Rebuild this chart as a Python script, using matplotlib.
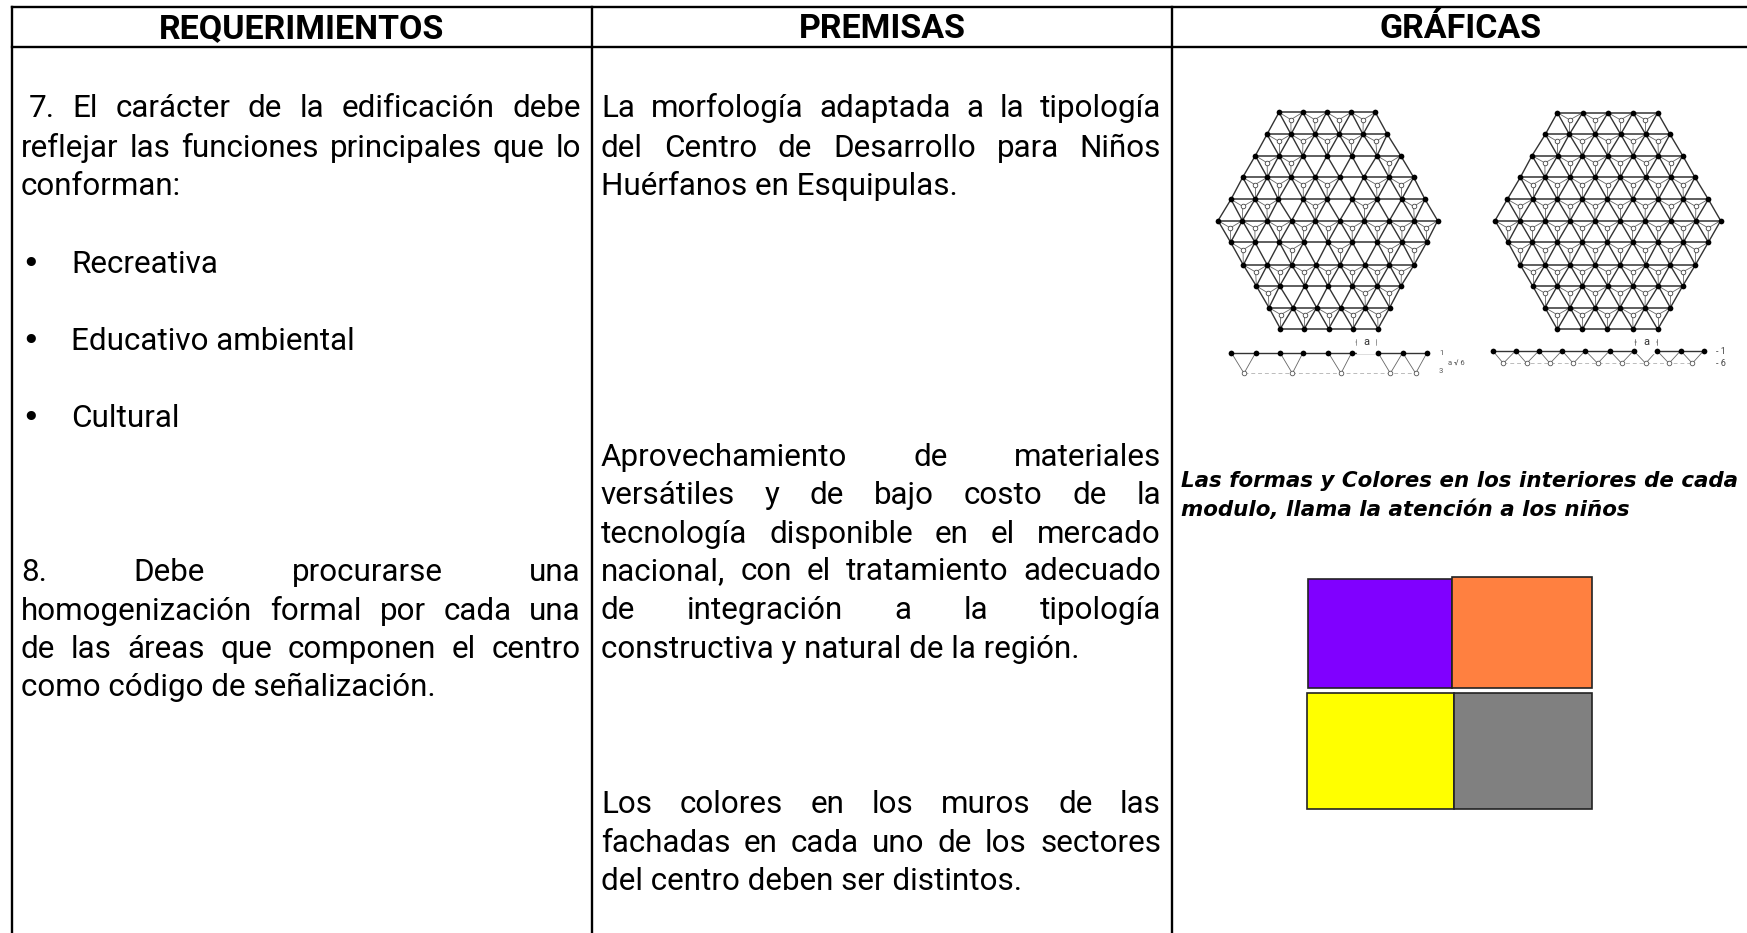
import matplotlib
matplotlib.use("Agg")
import matplotlib.pyplot as plt
from matplotlib.patches import Rectangle

W, H = 1747, 933

headers = ["REQUERIMIENTOS", "PREMISAS", "GRÁFICAS"]
header_x = [302, 882, 1461]
col_lines = [12, 592, 1172]

# (text, baseline y, justified)
col1_lines = [
    (" 7. El carácter de la edificación debe", 117, True),
    ("reflejar las funciones principales que lo", 157, True),
    ("conforman:", 195, False),
    ("8. Debe procurarse una", 581, True),
    ("homogenización formal por cada una", 620, True),
    ("de las áreas que componen el centro", 658, True),
    ("como código de señalización.", 696, False),
]
bullets = [("Recreativa", 273), ("Educativo ambiental", 350), ("Cultural", 427)]
col2_lines = [
    ("La morfología adaptada a la tipología", 117, True),
    ("del Centro de Desarrollo para Niños", 157, True),
    ("Huérfanos en Esquipulas.", 195, False),
    ("Aprovechamiento de materiales", 466, True),
    ("versátiles y de bajo costo de la", 504, True),
    ("tecnología disponible en el mercado", 543, True),
    ("nacional, con el tratamiento adecuado", 580, True),
    ("de integración a la tipología", 619, True),
    ("constructiva y natural de la región.", 658, False),
    ("Los colores en los muros de las", 813, True),
    ("fachadas en cada uno de los sectores", 852, True),
    ("del centro deben ser distintos.", 890, False),
]
caption = ["Las formas y Colores en los interiores de cada", "modulo, llama la atención a los niños"]
caption_y = [487, 516]

rows_y_a = [217, 283, 347, 412, 478, 542, 607, 675, 738, 803, 866]
rows_a = [
    [267, 338, 410, 484, 556],
    [231, 303, 375, 447, 519, 592],
    [196, 267, 338, 411, 485, 561, 632],
    [158, 232, 303, 376, 449, 521, 597, 671],
    [123, 195, 265, 340, 411, 487, 561, 635, 705],
    [84, 157, 232, 305, 376, 449, 523, 598, 673, 743],
    [122, 195, 268, 341, 413, 487, 562, 636, 710],
    [160, 232, 305, 378, 450, 525, 598, 672],
    [199, 269, 344, 414, 487, 562, 633],
    [237, 309, 380, 452, 526, 599],
    [271, 343, 416, 489, 564],
]
# triangles without a lower node, per gap between rows
empty_a = [[], [], [2, 3, 4], [4], [2, 4, 6], [], [1, 3, 5], [], [1, 2, 3], []]

rows_y_b = [218, 283, 347, 412, 478, 542, 607, 675, 738, 803, 868]
rows_b = [
    [262, 338, 414, 489, 563],
    [226, 298, 375, 452, 527, 600],
    [186, 263, 337, 413, 489, 565, 638],
    [151, 225, 300, 375, 451, 527, 602, 675],
    [112, 188, 262, 337, 412, 488, 565, 640, 715],
    [75, 149, 225, 300, 375, 450, 525, 602, 677, 752],
    [114, 187, 262, 337, 412, 488, 563, 640, 715],
    [151, 225, 300, 375, 450, 527, 600, 676],
    [188, 262, 337, 413, 488, 565, 638],
    [225, 300, 375, 450, 525, 601],
    [262, 337, 412, 489, 563],
]
empty_b = [[] for _ in range(10)]

elev_top_a = [124, 197, 270, 339, 415, 485, 564, 638, 711]
elev_low_a = [162, 307, 453, 601, 677]
elev_links_a = [(0, 1), (2, 3), (4, 5), (6, 7), (7, 8)]
elev_top_b = [68, 137, 207, 276, 346, 419, 491, 561, 632, 701]
elev_low_b = [100, 170, 240, 310, 383, 455, 527, 597, 667]
elev_links_b = [(i, i + 1) for i in range(9)]

squares = [
    (1308, 579, 144, 109, "#8000ff"),
    (1452, 577, 140, 111, "#ff8040"),
    (1307, 693, 147, 116, "#ffff00"),
    (1454, 693, 138, 116, "#808080"),
]

plt.rcParams["font.family"] = ["Roboto", "DejaVu Sans"]
fig = plt.figure(figsize=(W / 100, H / 100), dpi=100)
ax = fig.add_axes([0, 0, 1, 1])
ax.set_xlim(0, W)
ax.set_ylim(H, 0)
ax.axis("off")
renderer = fig.canvas.get_renderer()

BODY = 22.6


def put_line(line, left, right, y, justify):
    if not justify:
        ax.text(left, y, line.strip(), fontsize=BODY, va="baseline", color="black")
        return
    words = line.split()
    widths = []
    for w in words:
        t = ax.text(0, 0, w, fontsize=BODY)
        widths.append(t.get_window_extent(renderer).width)
        t.remove()
    if line.startswith(" "):
        left = left + 8
    gap = (right - left - sum(widths)) / (len(words) - 1)
    x = left
    for w, wd in zip(words, widths):
        ax.text(x, y, w, fontsize=BODY, va="baseline", color="black")
        x += wd + gap


def draw_lattice(rows, rows_y, empty, x0, y0):
    for r, xs in enumerate(rows):
        y = rows_y[r] / 3 + y0
        ax.plot([xs[0] / 3 + x0, xs[-1] / 3 + x0], [y, y], color="#333333", lw=1.1)
    hollow_x, hollow_y = [], []
    for r in range(len(rows) - 1):
        up, dn = rows[r], rows[r + 1]
        y1, y2 = rows_y[r] / 3 + y0, rows_y[r + 1] / 3 + y0
        grow = len(dn) > len(up)
        for i in range(len(up)):
            targets = [i, i + 1] if grow else [i - 1, i]
            for j in targets:
                if 0 <= j < len(dn):
                    ax.plot([up[i] / 3 + x0, dn[j] / 3 + x0], [y1, y2], color="#333333", lw=1.0)
        for i in range(len(up) - 1):
            if i in empty[r]:
                continue
            apex = dn[i + 1] if grow else dn[i]
            cx = (up[i] + up[i + 1] + apex) / 9 + x0
            cy = y1 + (y2 - y1) / 3
            for vx, vy in [(up[i], y1), (up[i + 1], y1), (apex, y2)]:
                ax.plot([cx, vx / 3 + x0], [cy, vy], color="#666666", lw=0.6)
            hollow_x.append(cx)
            hollow_y.append(cy)
    ax.scatter(hollow_x, hollow_y, s=11, facecolor="white", edgecolor="#444444", linewidth=0.6, zorder=3)
    for r, xs in enumerate(rows):
        ax.scatter([x / 3 + x0 for x in xs], [rows_y[r] / 3 + y0] * len(xs), s=17, color="black", linewidth=0, zorder=4)


def draw_elevation(top, low, links, y_top, y_low, x0, y0):
    yt, yl = y_top / 3 + y0, y_low / 3 + y0
    ax.plot([top[0] / 3 + x0, top[-1] / 3 + x0], [yt, yt], color="#333333", lw=1.0)
    ax.plot([low[0] / 3 + x0, low[-1] / 3 + x0], [yl, yl], color="#bbbbbb", lw=0.7, ls=(0, (4, 3)))
    for k, (a, b) in enumerate(links):
        for n in (a, b):
            ax.plot([low[k] / 3 + x0, top[n] / 3 + x0], [yl, yt], color="#666666", lw=0.6)
    ax.scatter([x / 3 + x0 for x in top], [yt] * len(top), s=17, color="black", linewidth=0, zorder=4)
    ax.scatter([x / 3 + x0 for x in low], [yl] * len(low), s=11, facecolor="white", edgecolor="#555555", linewidth=0.6, zorder=4)


# table rules
ax.plot([12, W], [7, 7], color="black", lw=1.7)
ax.plot([12, W], [47, 47], color="black", lw=1.7)
for x in col_lines:
    ax.plot([x, x], [7, H], color="black", lw=1.7)
ax.set_xlim(0, W)
ax.set_ylim(H, 0)

for name, x in zip(headers, header_x):
    ax.text(x, 38, name, fontsize=24.5, fontweight="bold", ha="center", va="baseline", color="black")

for line, y, just in col1_lines:
    put_line(line, 21, 581, y, just)
for label, y in bullets:
    ax.text(21, y, "•", fontsize=BODY, va="baseline", color="black", family="DejaVu Sans")
    ax.text(71, y, label, fontsize=BODY, va="baseline", color="black")
for line, y, just in col2_lines:
    put_line(line, 601, 1161, y, just)

draw_lattice(rows_a, rows_y_a, empty_a, 1190, 40)
draw_lattice(rows_b, rows_y_b, empty_b, 1470, 40)
draw_elevation(elev_top_a, elev_low_a, elev_links_a, 938, 1000, 1190, 40)
draw_elevation(elev_top_b, elev_low_b, elev_links_b, 932, 970, 1470, 40)

# dimension marks under the drawings
ax.annotate("", xy=(1353, 342), xytext=(1379, 342), arrowprops=dict(arrowstyle="|-|,widthA=0.2,widthB=0.2", lw=0.5, color="#555555"))
ax.text(1366, 342, "a", fontsize=8, ha="center", va="center", color="#333333", backgroundcolor="white")
ax.annotate("", xy=(1632, 342), xytext=(1660, 342), arrowprops=dict(arrowstyle="|-|,widthA=0.2,widthB=0.2", lw=0.5, color="#555555"))
ax.text(1646, 342, "a", fontsize=8, ha="center", va="center", color="#333333", backgroundcolor="white")
ax.text(1439, 353, "1", fontsize=5.5, va="center", color="#555555")
ax.text(1439, 371, "3", fontsize=5.5, va="center", color="#555555")
ax.text(1448, 363, "a √ 6", fontsize=5.5, va="center", color="#555555")
ax.text(1716, 351, "- 1", fontsize=6.5, va="center", color="#444444")
ax.text(1716, 363, "- 6", fontsize=6.5, va="center", color="#444444")

for line, y in zip(caption, caption_y):
    ax.text(1181, y, line, fontsize=15.4, fontweight="bold", fontstyle="italic", va="baseline", color="black", family="DejaVu Sans")

for x, y, w, h, c in squares:
    ax.add_patch(Rectangle((x, y), w, h, facecolor=c, edgecolor="#222222", lw=1.2))

fig.savefig("out.png", dpi=100, facecolor="white")
